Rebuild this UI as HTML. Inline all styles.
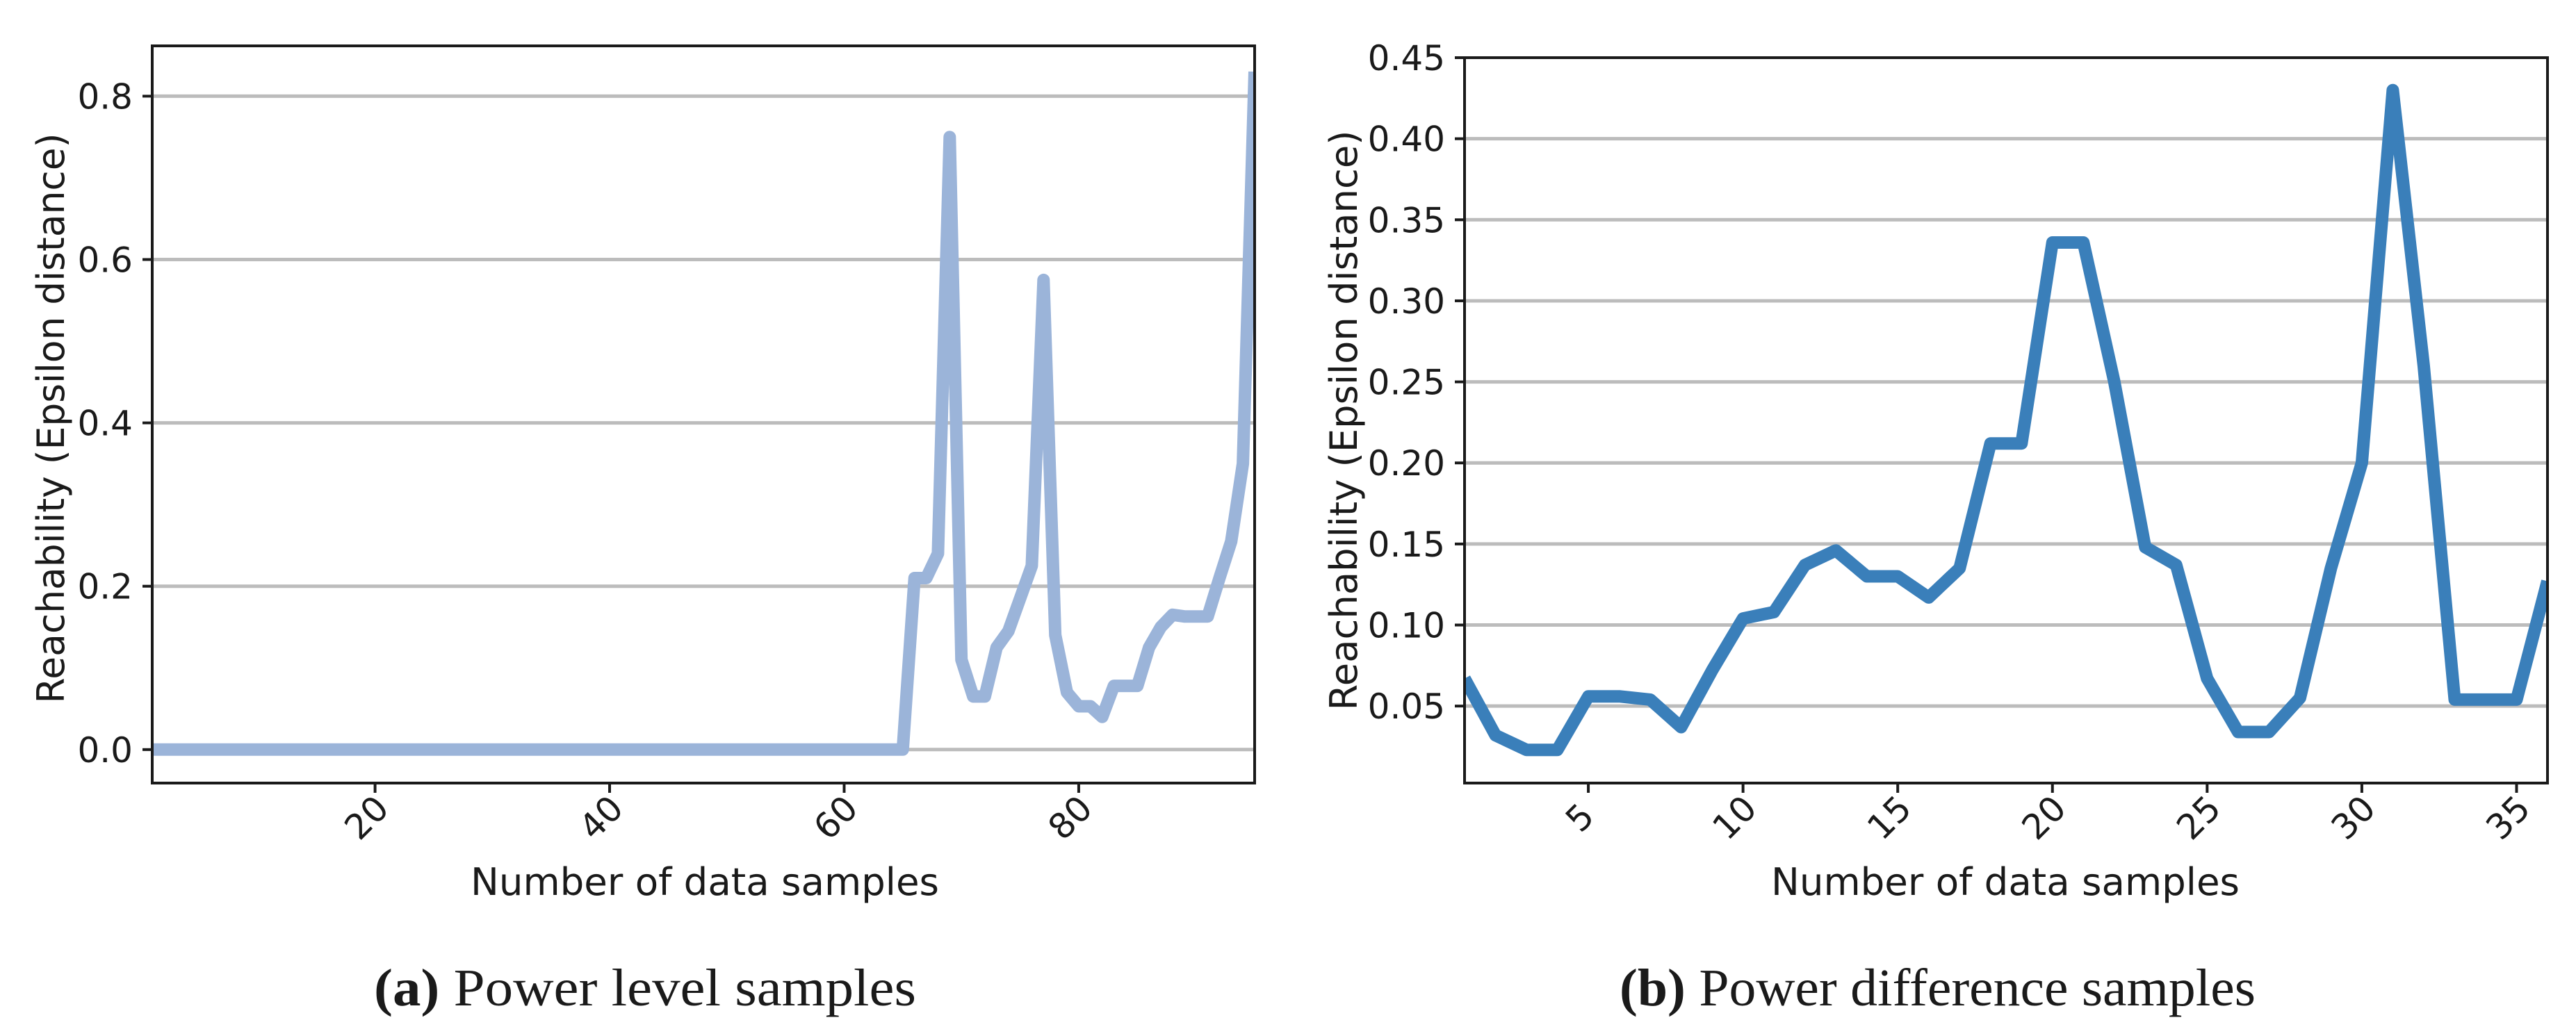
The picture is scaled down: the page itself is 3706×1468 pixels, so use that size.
<!DOCTYPE html>
<html><head><meta charset="utf-8"><style>
body{margin:0;background:#fff}
svg{display:block}
.tk{font-family:"DejaVu Sans","Liberation Sans",sans-serif;font-size:50px;fill:#1a1a1a}
.al{font-family:"DejaVu Sans","Liberation Sans",sans-serif;font-size:54px;fill:#1a1a1a}
.cap{font-family:"Liberation Serif",serif;font-size:76px;fill:#1a1a1a}
</style></head><body>
<svg id="fig" width="3706" height="1468" viewBox="0 0 3706 1468" xmlns="http://www.w3.org/2000/svg">
<g id="chartA"></g>
<g id="chartB"></g>
<text class="cap" x="538" y="1447" textLength="780" lengthAdjust="spacingAndGlyphs"><tspan font-weight="bold">(a)</tspan> Power level samples</text>
<text class="cap" x="2330" y="1447" textLength="915" lengthAdjust="spacingAndGlyphs"><tspan font-weight="bold">(b)</tspan> Power difference samples</text>
</svg>
<script>
const levelValues = [0,0,0,0,0,0,0,0,0,0,0,0,0,0,0,0,0,0,0,0,0,0,0,0,0,0,0,0,0,0,0,0,0,0,0,0,0,0,0,0,0,0,0,0,0,0,0,0,0,0,0,0,0,0,0,0,0,0,0,0,0,0,0,0,0,
0.21,0.21,0.24,0.75,0.11,0.065,0.065,0.125,0.145,0.185,0.225,0.575,0.14,0.07,0.053,0.053,0.04,0.078,0.078,0.078,0.125,0.15,0.165,0.163,0.163,0.163,0.21,0.255,0.35,0.83];
const levelXTicks = [20,40,60,80];
const levelYTicks = [0.0,0.2,0.4,0.6,0.8];
const levelYLabels = ["0.0","0.2","0.4","0.6","0.8"];
const diffValues = [0.067,0.032,0.023,0.023,0.056,0.056,0.054,0.037,0.072,0.104,0.108,0.137,0.146,0.13,0.13,0.117,0.135,0.212,0.212,0.336,0.336,0.25,0.148,0.137,0.067,0.034,0.034,0.055,0.135,0.2,0.43,0.26,0.054,0.054,0.054,0.127];
const diffXTicks = [5,10,15,20,25,30,35];
const diffYTicks = [0.05,0.10,0.15,0.20,0.25,0.30,0.35,0.40,0.45];
const diffYLabels = ["0.05","0.10","0.15","0.20","0.25","0.30","0.35","0.40","0.45"];

const NS="http://www.w3.org/2000/svg";
function mk(parent,tag,attrs){const e=document.createElementNS(NS,tag);for(const k in attrs)e.setAttribute(k,attrs[k]);parent.appendChild(e);return e;}

function drawChart(g,cfg){
  const sx=v=>cfg.x0+(v-cfg.xmin)/(cfg.xmax-cfg.xmin)*(cfg.x1-cfg.x0);
  const sy=v=>cfg.y1-(v-cfg.ymin)/(cfg.ymax-cfg.ymin)*(cfg.y1-cfg.y0);
  cfg.yTicks.forEach((t,i)=>{
    const y=sy(t);
    if(y>cfg.y0+2){
      const gl=mk(g,'line',{x1:cfg.x0,x2:cfg.x1,y1:y,y2:y,stroke:'#bcbcbc','stroke-width':5});
      
      
    }
    const tm=mk(g,'line',{x1:cfg.x0-14,x2:cfg.x0,y1:y,y2:y,stroke:'#1a1a1a','stroke-width':4});
    
    
    const tl=mk(g,'text',{x:cfg.x0-28,y:y+18,'text-anchor':'end',class:'tk'});
    tl.textContent=cfg.yLabels[i];
    
    
  });
  cfg.xTicks.forEach(t=>{
    const x=sx(t);
    const tm=mk(g,'line',{x1:x,x2:x,y1:cfg.y1,y2:cfg.y1+14,stroke:'#1a1a1a','stroke-width':4});
    
    
    const tl=mk(g,'text',{x:x,y:cfg.y1+62,'text-anchor':'middle',class:'tk',transform:`rotate(-45 ${x} ${cfg.y1+62})`});
    tl.textContent=String(t);
    
    
  });
  const pts=cfg.values.map((v,i)=>`${sx(i+1).toFixed(1)},${sy(v).toFixed(1)}`).join(' ');
  const clip=mk(g,'clipPath',{id:cfg.id+'clip'});
  mk(clip,'rect',{x:cfg.x0,y:cfg.y0,width:cfg.x1-cfg.x0,height:cfg.y1-cfg.y0});
  const ln=mk(g,'polyline',{points:pts,fill:'none',stroke:cfg.color,'stroke-width':18,'stroke-linejoin':'round','clip-path':`url(#${cfg.id}clip)`});
  
  
  const fr=mk(g,'rect',{x:cfg.x0,y:cfg.y0,width:cfg.x1-cfg.x0,height:cfg.y1-cfg.y0,fill:'none',stroke:'#1a1a1a','stroke-width':4});
  
  
  const xl=mk(g,'text',{x:cfg.xlx-337,y:1288,class:'al',textLength:674,lengthAdjust:'spacingAndGlyphs'});
  xl.textContent='Number of data samples';
  
  
  const cy=cfg.ylc, cx=cfg.ylx;
  const yl=mk(g,'text',{x:cx-cfg.ylen/2,y:cy,class:'al',textLength:cfg.ylen,lengthAdjust:'spacingAndGlyphs',transform:`rotate(-90 ${cx} ${cy})`});
  yl.setAttribute('x',cx-cfg.ylen/2);
  yl.textContent='Reachability (Epsilon distance)';
  
  
}

drawChart(document.getElementById('chartA'),{id:'a',x0:219,x1:1805,y0:66,y1:1127,xmin:1,xmax:95,ymin:-0.041,ymax:0.8616,
  values:levelValues,xTicks:levelXTicks,yTicks:levelYTicks,yLabels:levelYLabels,color:'#9bb4d9',ylx:92,ylc:602,ylen:821,xlx:1014});
drawChart(document.getElementById('chartB'),{id:'b',x0:2107,x1:3665,y0:83,y1:1127,xmin:1,xmax:36,ymin:0.0025,ymax:0.45,
  values:diffValues,xTicks:diffXTicks,yTicks:diffYTicks,yLabels:diffYLabels,color:'#3a7fba',ylx:1952,ylc:605,ylen:835,xlx:2885});
</script>
</body></html>
